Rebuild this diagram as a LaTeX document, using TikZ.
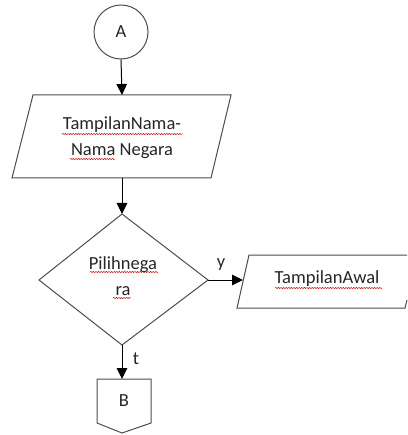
\documentclass[tikz,border=0pt]{standalone}
\usepackage{fontspec}
\setmainfont{Carlito}
\usetikzlibrary{arrows.meta,decorations.pathmorphing}
\begin{document}
\begin{tikzpicture}[x=1pt,y=-1pt,
  shapeline/.style={draw=black!70,line width=1pt},
  flow/.style={draw=black,line width=1pt,-{Triangle[length=11pt,width=10.5pt]}},
  txt/.style={font=\fontsize{18.5}{26}\selectfont,inner sep=0pt,align=center,text=black!85},
  squig/.style={draw=red!80!black,line width=0.4pt,decorate,decoration={snake,amplitude=0.7pt,segment length=2.6pt}}]
\useasboundingbox (0,0) rectangle (407,435);
% connector A
\node[shapeline,circle,minimum size=54pt,inner sep=0pt] (A) at (121,32) {};
\node[txt] (Atxt) at (121,32) {A};
% input parallelogram
\draw[shapeline] (33,95) -- (231,95) -- (211,178) -- (12,178) -- cycle;
\coordinate (in1top) at (122,95);
\coordinate (in1bot) at (122,178);
\node[txt] (in1) at (122,138) {TampilanNama-\\Nama Negara};
% decision diamond
\draw[shapeline] (122,214) -- (208,280) -- (122,345) -- (39,280) -- cycle;
\coordinate (dtop) at (122,214);
\coordinate (dright) at (208,280);
\coordinate (dbot) at (122,345);
\node[txt] (dec) at (123,276) {Pilihnega\\ra};
% output parallelogram (clipped at right)
\draw[shapeline] (407,255) -- (249,255) -- (237,308) -- (405,308) -- (407,300);
\coordinate (out1left) at (243,280);
\node[txt] (out1) at (327,279) {TampilanAwal};
% off-page connector B
\draw[shapeline] (97,379) -- (151,379) -- (151,423) -- (122,433) -- (97,423) -- cycle;
\coordinate (Btop) at (122,379);
\node[txt] (Btxt) at (124,401) {B};
% connectors
\draw[flow] (A.south) -- (in1top);
\draw[flow] (in1bot) -- (dtop);
\draw[flow] (dright) -- (out1left);
\draw[flow] (dbot) -- (Btop);
\node[txt] (ylab) at (221,265) {y};
\node[txt] (tlab) at (136,359) {t};
% spell-check underlines
\draw[squig] (62,134) -- (183,134);
\draw[squig] (70,159) -- (115,159);
\draw[squig] (90,272) -- (158,272);
\draw[squig] (113,298) -- (131,298);
\draw[squig] (275,288) -- (382,288);
\end{tikzpicture}
\end{document}
